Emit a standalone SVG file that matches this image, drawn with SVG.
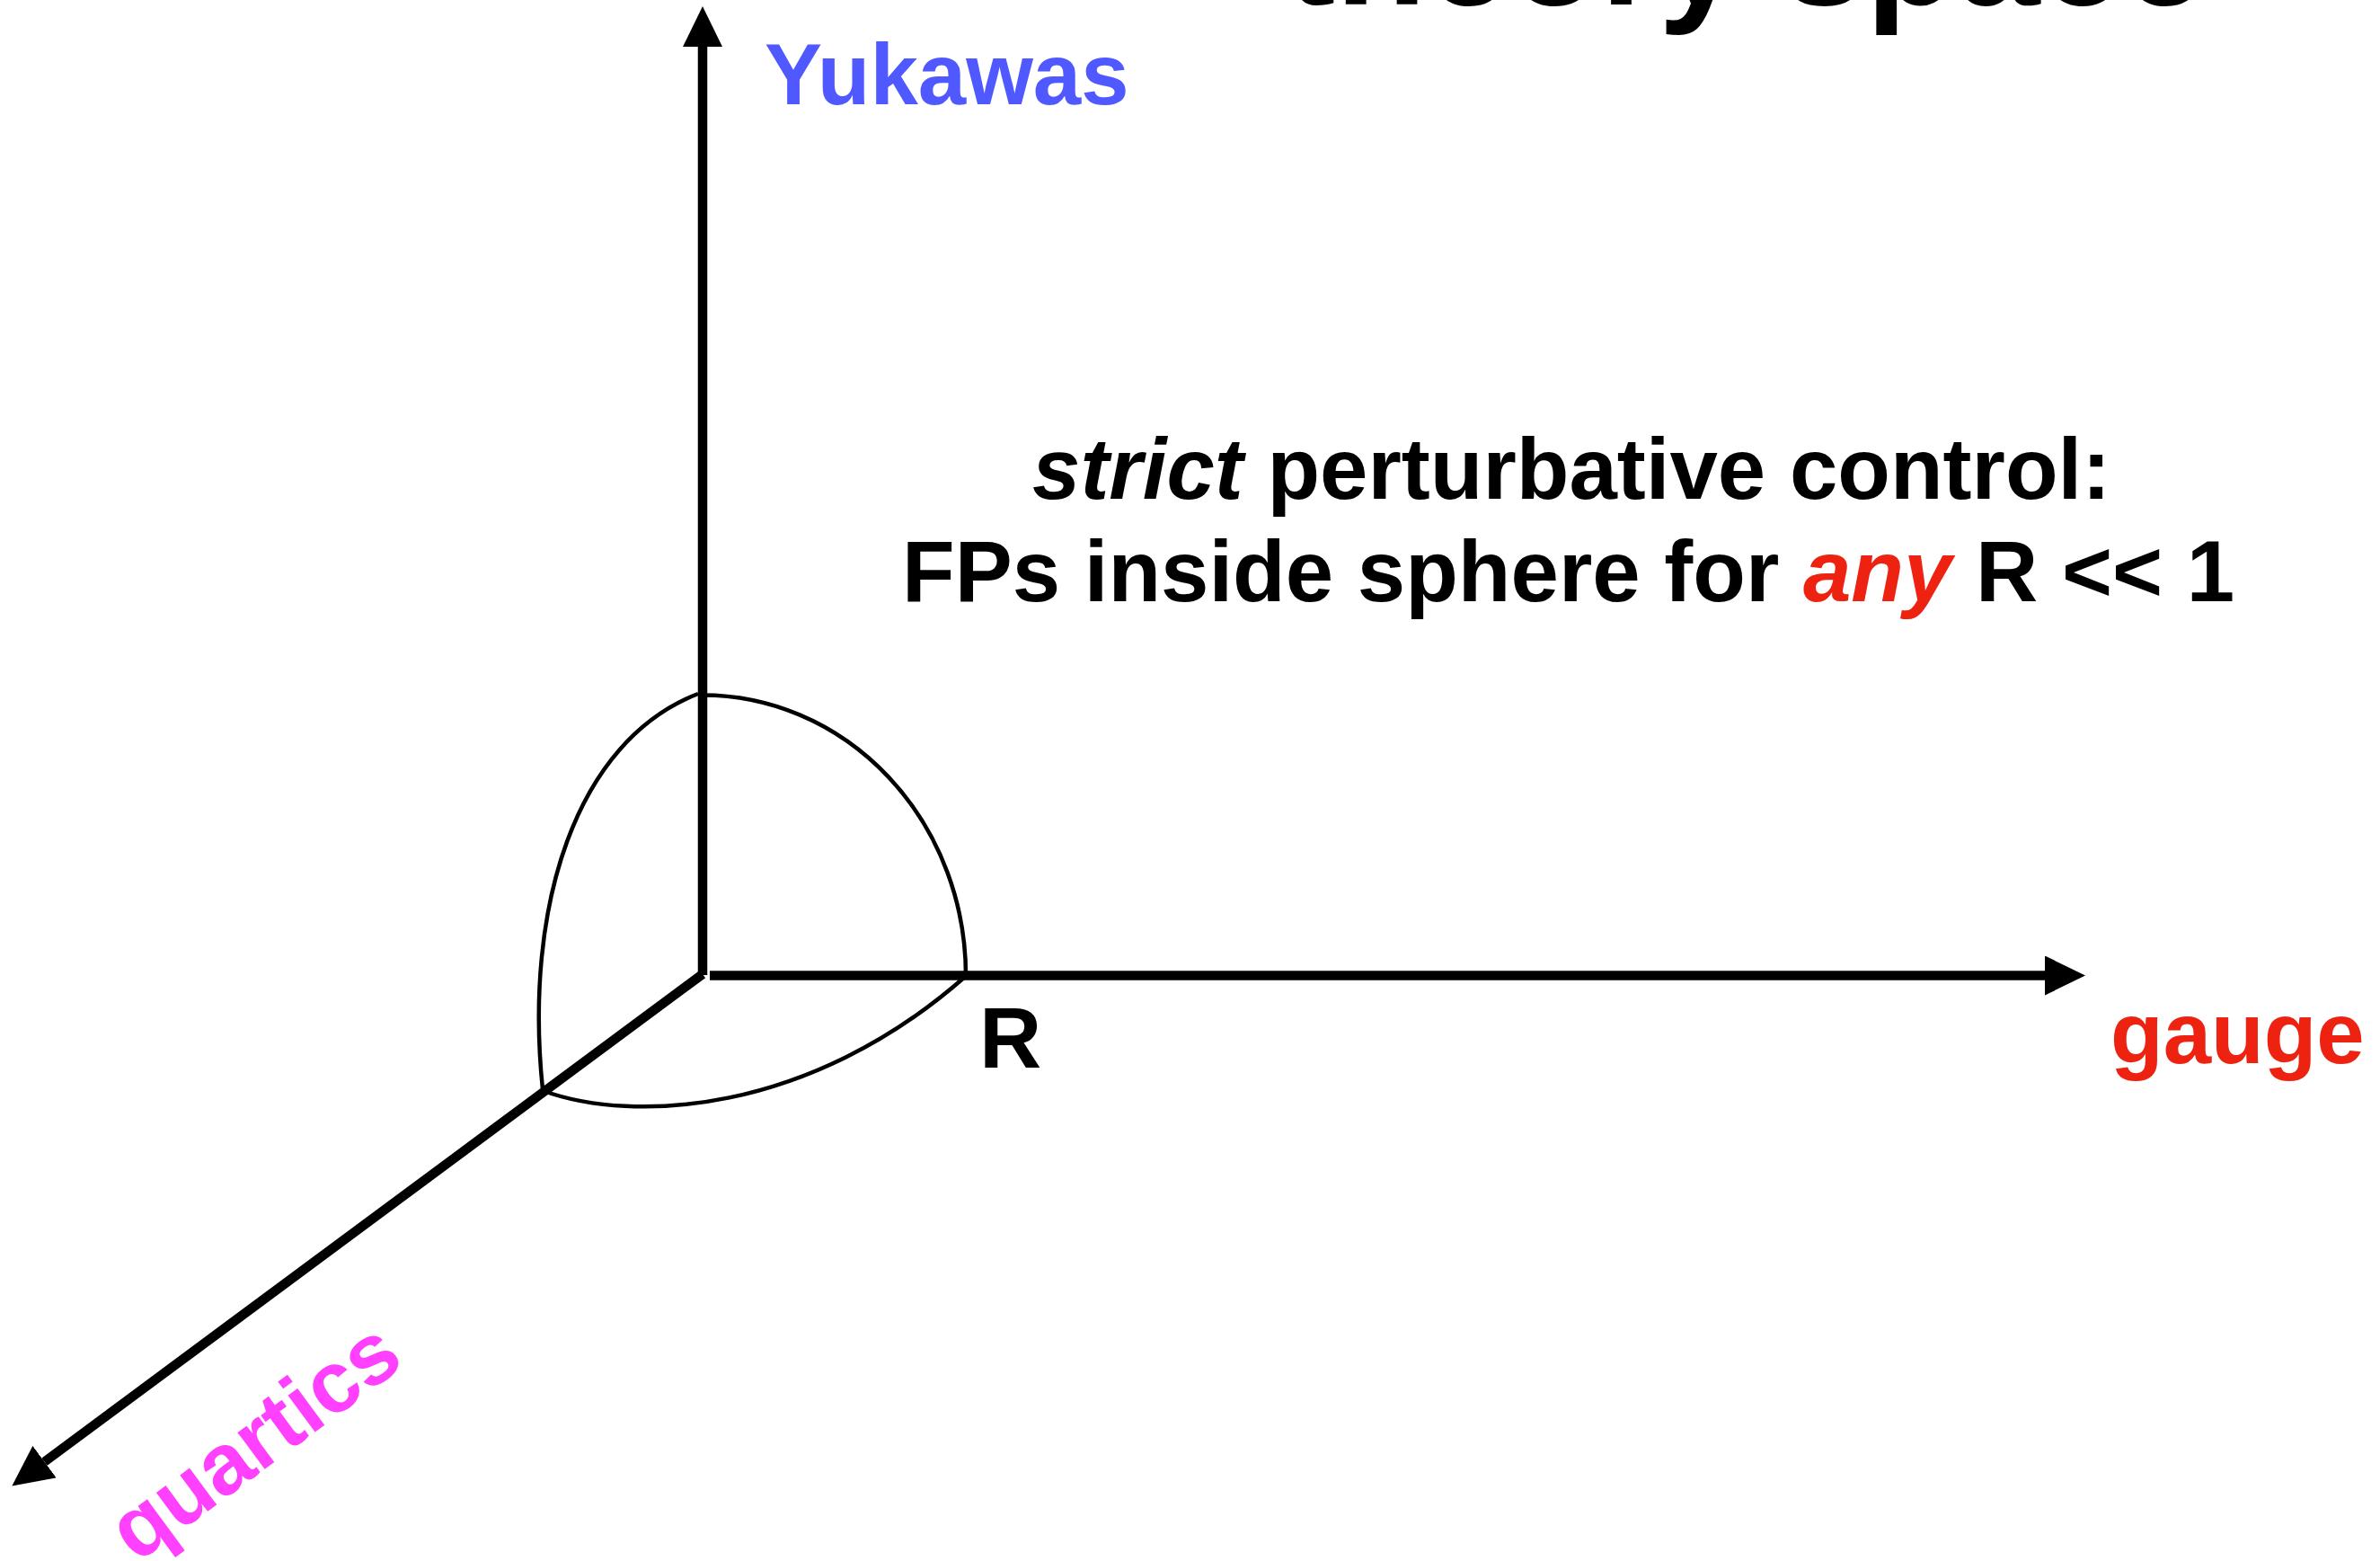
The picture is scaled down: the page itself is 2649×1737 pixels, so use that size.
<svg xmlns="http://www.w3.org/2000/svg" width="2649" height="1737" viewBox="0 0 2649 1737">
<style>
.lbl{font-family:"Liberation Sans",Arial,Helvetica,sans-serif;font-weight:bold;font-size:96px}
.axis{stroke:#000;stroke-width:10.5;fill:none}
.arc{stroke:#000;stroke-width:4.5;fill:none}
</style>
<defs>
<marker id="ah" markerUnits="userSpaceOnUse" viewBox="0 0 45 44" markerWidth="45" markerHeight="44" refX="0" refY="22" orient="auto">
<path d="M0,0 L45,22 L0,44 Z" fill="#000"/>
</marker>
</defs>
<rect width="2649" height="1737" fill="#fff"/>
<g id="title">
<text class="lbl" x="1431" y="5" style="font-size:166px">theory space</text>
</g>
<g id="connectors">
<line class="axis" x1="782" y1="1085" x2="782" y2="52" marker-end="url(#ah)"/>
<line class="axis" x1="790" y1="1085.5" x2="2276" y2="1085.5" marker-end="url(#ah)"/>
<line class="axis" x1="782" y1="1084" x2="49.5" y2="1626.6" marker-end="url(#ah)"/>
</g>
<g id="sphere">
<path class="arc" d="M 782 773.5 A 293 312 0 0 1 1075 1085.5"/>
<path class="arc" d="M 777 772 C 640 825, 583 1010, 604 1212"/>
<path class="arc" d="M 605 1214 C 705 1250, 900 1240, 1074 1087"/>
</g>
<g id="yukawas">
<text class="lbl" x="851" y="116" fill="#5059FF">Yukawas</text>
</g>
<g id="gauge">
<text class="lbl" x="2349" y="1183" fill="#EE2211">gauge</text>
</g>
<g id="quartics">
<text class="lbl" transform="translate(152,1740) rotate(-36.4)" fill="#FF40FF">quartics</text>
</g>
<g id="R">
<text class="lbl" x="1090" y="1188">R</text>
</g>
<g id="note">
<text class="lbl" x="1149" y="555"><tspan font-style="italic">strict</tspan> perturbative control:</text>
<text class="lbl" x="1004" y="669">FPs inside sphere for <tspan font-style="italic" fill="#EE2211">any</tspan> R &lt;&lt; 1</text>
</g>
</svg>
